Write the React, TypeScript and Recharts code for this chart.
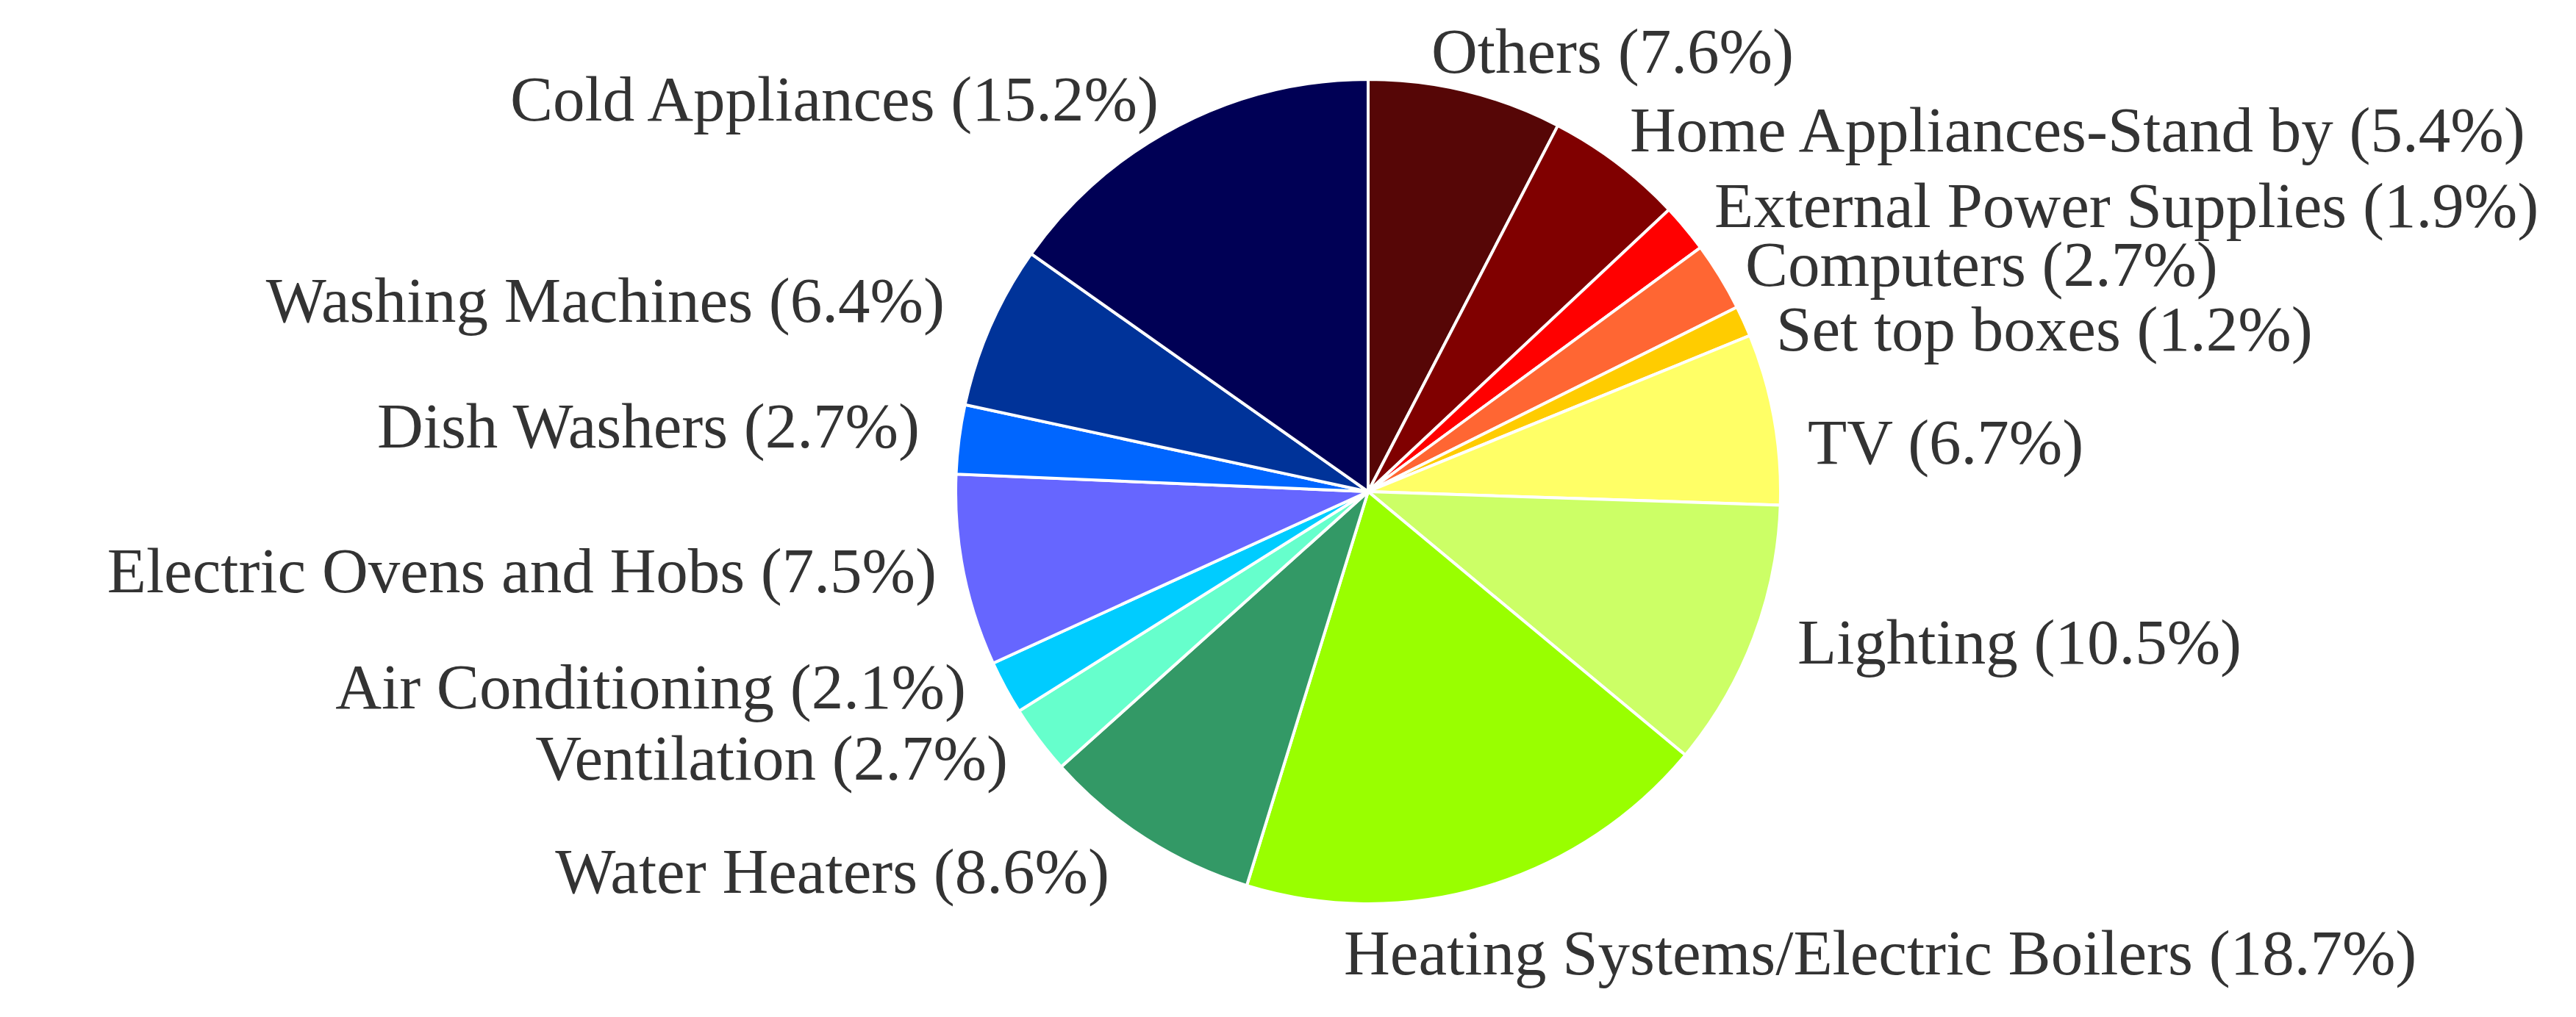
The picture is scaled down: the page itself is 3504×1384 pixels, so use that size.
import React from "react";
import { PieChart, Pie, Cell } from "recharts";

const categories = [
  "Others",
  "Home Appliances-Stand by",
  "External Power Supplies",
  "Computers",
  "Set top boxes",
  "TV",
  "Lighting",
  "Heating Systems/Electric Boilers",
  "Water Heaters",
  "Ventilation",
  "Air Conditioning",
  "Electric Ovens and Hobs",
  "Dish Washers",
  "Washing Machines",
  "Cold Appliances",
];

const shares = [7.6, 5.4, 1.9, 2.7, 1.2, 6.7, 10.5, 18.7, 8.6, 2.7, 2.1, 7.5, 2.7, 6.4, 15.2];

const colors = [
  "#560606",
  "#800000",
  "#ff0000",
  "#ff6633",
  "#ffcc00",
  "#ffff66",
  "#ccff66",
  "#99ff00",
  "#339966",
  "#66ffcc",
  "#00ccff",
  "#6666ff",
  "#0066ff",
  "#003399",
  "#000055",
];

// label anchor relative to the pie centre (hand placed, like the original)
const labelSpots: { dx: number; dy: number; anchor: "start" | "end" }[] = [
  { dx: 86, dy: -570, anchor: "start" },
  { dx: 356, dy: -463, anchor: "start" },
  { dx: 471, dy: -360, anchor: "start" },
  { dx: 513, dy: -280, anchor: "start" },
  { dx: 555, dy: -192, anchor: "start" },
  { dx: 598, dy: -38, anchor: "start" },
  { dx: 584, dy: 234, anchor: "start" },
  { dx: -33, dy: 657, anchor: "start" },
  { dx: -352, dy: 546, anchor: "end" },
  { dx: -490, dy: 392, anchor: "end" },
  { dx: -547, dy: 295, anchor: "end" },
  { dx: -587, dy: 137, anchor: "end" },
  { dx: -610, dy: -60, anchor: "end" },
  { dx: -576, dy: -231, anchor: "end" },
  { dx: -285, dy: -505, anchor: "end" },
];

const data = categories.map((name, i) => ({ name, value: shares[i] }));

const renderLabel = (props: any) => {
  const { cx, cy, index } = props;
  const spot = labelSpots[index];
  return (
    <text
      x={cx + spot.dx}
      y={cy + spot.dy}
      textAnchor={spot.anchor}
      fill="#333"
      fontSize={87}
      fontFamily="'Liberation Serif', serif"
    >
      {`${categories[index]} (${shares[index].toFixed(1)}%)`}
    </text>
  );
};

export default function App() {
  return (
    <div style={{ position: "absolute", left: 0, top: 0, background: "#fff" }}>
      <PieChart width={3504} height={1384}>
        <Pie
          data={data}
          dataKey="value"
          nameKey="name"
          cx={1856}
          cy={664}
          outerRadius={561}
          startAngle={90}
          endAngle={-270}
          stroke="#ffffff"
          strokeWidth={4}
          label={renderLabel}
          labelLine={false}
          isAnimationActive={false}
        >
          {data.map((_, i) => (
            <Cell key={`cell-${i}`} fill={colors[i]} />
          ))}
        </Pie>
      </PieChart>
    </div>
  );
}
